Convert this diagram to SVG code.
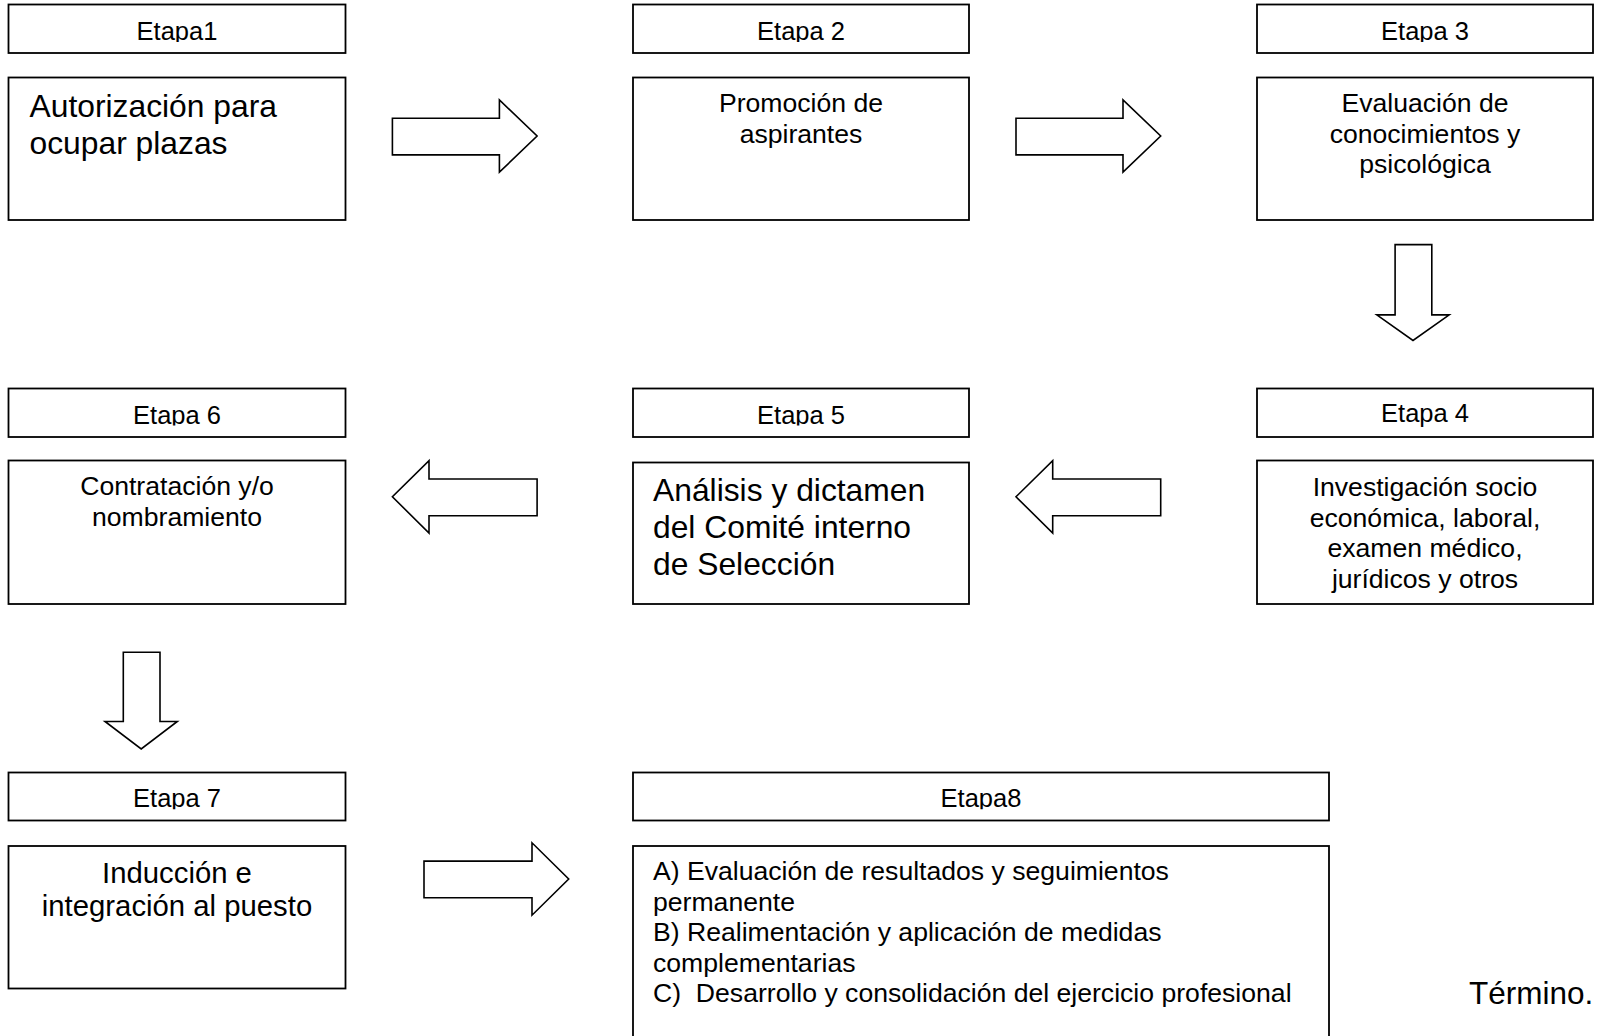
<svg xmlns="http://www.w3.org/2000/svg" width="1598" height="1036" viewBox="0 0 1598 1036">
<style>
.box{fill:#fff;stroke:#000;stroke-width:1.8}
.arrow{fill:#fff;stroke:#000;stroke-width:1.6;stroke-linejoin:miter}
text{font-family:"Liberation Sans",Arial,sans-serif;fill:#000}
.h{font-size:25.5px;text-anchor:middle}
.m{font-size:26.6px}
.c{text-anchor:middle}
.l{font-size:31.8px}
.n{font-size:29.3px;text-anchor:middle}
</style>
<defs>
<clipPath id="clip1"><rect x="0" y="0" width="1598" height="42"/></clipPath>
<clipPath id="clip2"><rect x="0" y="380" width="1598" height="45.5"/></clipPath>
<clipPath id="clip3"><rect x="0" y="760" width="1598" height="49.3"/></clipPath>
</defs>
<rect width="1598" height="1036" fill="#fff"/>

<g id="etapa1">
<rect class="box" x="8.5" y="4.5" width="337" height="48.5"/>
<text class="h" x="177" y="40" clip-path="url(#clip1)">Etapa1</text>
<rect class="box" x="8.5" y="77.5" width="337" height="142.5"/>
<text class="l" x="29.5" y="117.3">Autorización para</text>
<text class="l" x="29.5" y="154">ocupar plazas</text>
</g>

<g id="etapa2">
<rect class="box" x="633" y="4.5" width="336" height="48.5"/>
<text class="h" x="801" y="40" clip-path="url(#clip1)">Etapa 2</text>
<rect class="box" x="633" y="77.5" width="336" height="142.5"/>
<text class="m c" x="801" y="112">Promoción de</text>
<text class="m c" x="801" y="143">aspirantes</text>
</g>

<g id="etapa3">
<rect class="box" x="1257" y="4.5" width="336" height="48.5"/>
<text class="h" x="1425" y="40" clip-path="url(#clip1)">Etapa 3</text>
<rect class="box" x="1257" y="77.5" width="336" height="142.5"/>
<text class="m c" x="1425" y="112">Evaluación de</text>
<text class="m c" x="1425" y="143">conocimientos y</text>
<text class="m c" x="1425" y="173">psicológica</text>
</g>

<g id="etapa4">
<rect class="box" x="1257" y="388.5" width="336" height="48.5"/>
<text class="h" x="1425" y="422">Etapa 4</text>
<rect class="box" x="1257" y="460.5" width="336" height="143.5"/>
<text class="m c" x="1425" y="496.3">Investigación socio</text>
<text class="m c" x="1425" y="527">económica, laboral,</text>
<text class="m c" x="1425" y="557.4">examen médico,</text>
<text class="m c" x="1425" y="588">jurídicos y otros</text>
</g>

<g id="etapa5">
<rect class="box" x="633" y="388.5" width="336" height="48.5"/>
<text class="h" x="801" y="423.5" clip-path="url(#clip2)">Etapa 5</text>
<rect class="box" x="633" y="462.5" width="336" height="141.5"/>
<text class="l" x="653" y="501.4">Análisis y dictamen</text>
<text class="l" x="653" y="538">del Comité interno</text>
<text class="l" x="653" y="574.8">de Selección</text>
</g>

<g id="etapa6">
<rect class="box" x="8.5" y="388.5" width="337" height="48.5"/>
<text class="h" x="177" y="423.5" clip-path="url(#clip2)">Etapa 6</text>
<rect class="box" x="8.5" y="460.5" width="337" height="143.5"/>
<text class="m c" x="177" y="495">Contratación y/o</text>
<text class="m c" x="177" y="526">nombramiento</text>
</g>

<g id="etapa7">
<rect class="box" x="8.5" y="772.5" width="337" height="48"/>
<text class="h" x="177" y="807" clip-path="url(#clip3)">Etapa 7</text>
<rect class="box" x="8.5" y="846" width="337" height="142.5"/>
<text class="n" x="177" y="883">Inducción e</text>
<text class="n" x="177" y="916">integración al puesto</text>
</g>

<g id="etapa8">
<rect class="box" x="633" y="772.5" width="696" height="48"/>
<text class="h" x="981" y="807" clip-path="url(#clip3)">Etapa8</text>
<rect class="box" x="633" y="846" width="696" height="200"/>
<text class="m" x="653" y="880">A) Evaluación de resultados y seguimientos</text>
<text class="m" x="653" y="910.6">permanente</text>
<text class="m" x="653" y="941.2">B) Realimentación y aplicación de medidas</text>
<text class="m" x="653" y="971.8">complementarias</text>
<text class="m" x="653" y="1002.4">C)&#160; Desarrollo y consolidación del ejercicio profesional</text>
</g>

<g id="termino">
<text style="font-size:31.5px" x="1469" y="1004">Término.</text>
</g>

<g id="connectors">
<polygon class="arrow" points="392.4,118.2 499.4,118.2 499.4,99.9 537.1,136 499.4,172.2 499.4,154.9 392.4,154.9"/>
<polygon class="arrow" points="1016,118.2 1123,118.2 1123,99.9 1160.7,136 1123,172.2 1123,154.9 1016,154.9"/>
<polygon class="arrow" points="1395.1,244.6 1431.8,244.6 1431.8,314.9 1449.2,314.9 1413,340.4 1376.8,314.9 1395.1,314.9"/>
<polygon class="arrow" points="537.1,479 429,479 429,460.6 392.4,496.8 429,533 429,515.7 537.1,515.7"/>
<polygon class="arrow" points="1160.7,479 1052.7,479 1052.7,460.6 1016,496.8 1052.7,533 1052.7,515.7 1160.7,515.7"/>
<polygon class="arrow" points="123.3,652.2 160,652.2 160,721.5 177.3,721.5 141.2,749 105,721.5 123.3,721.5"/>
<polygon class="arrow" points="424,861.1 532,861.1 532,842.8 568.7,879 532,915.2 532,897.8 424,897.8"/>
</g>
</svg>
